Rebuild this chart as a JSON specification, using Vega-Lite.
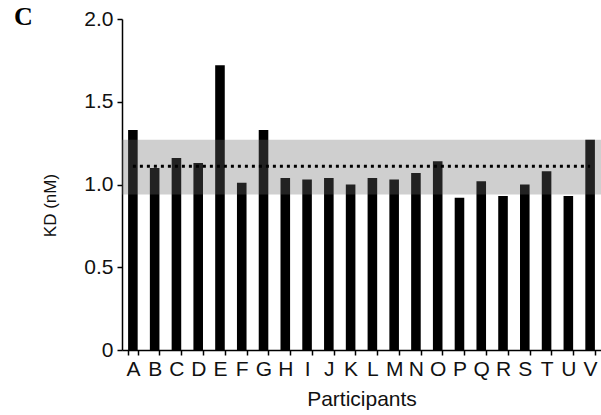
{
  "$schema": "https://vega.github.io/schema/vega-lite/v6.json",
  "width": 479,
  "height": 331,
  "autosize": {"type": "none"},
  "padding": {"left": 122, "top": 19, "right": 0, "bottom": 65},
  "background": "white",
  "title": {"text": "C", "anchor": "start", "frame": "group", "font": "Liberation Serif", "fontWeight": "bold", "fontSize": 26, "color": "#000", "dx": -108, "dy": -2, "offset": -24, "baseline": "top"},
  "config": {
    "view": {"stroke": null},
    "axis": {"labelFont": "Liberation Sans", "titleFont": "Liberation Sans", "labelColor": "#111", "titleColor": "#111", "domainColor": "#000", "tickColor": "#000", "grid": false, "labelFontSize": 21, "titleFontSize": 21, "titleFontWeight": "normal", "domainWidth": 1.5, "tickWidth": 1.5}
  },
  "datasets": {
    "bars": [
      {"participant": "A", "kd": 1.33},
      {"participant": "B", "kd": 1.10},
      {"participant": "C", "kd": 1.16},
      {"participant": "D", "kd": 1.13},
      {"participant": "E", "kd": 1.72},
      {"participant": "F", "kd": 1.01},
      {"participant": "G", "kd": 1.33},
      {"participant": "H", "kd": 1.04},
      {"participant": "I", "kd": 1.03},
      {"participant": "J", "kd": 1.04},
      {"participant": "K", "kd": 1.00},
      {"participant": "L", "kd": 1.04},
      {"participant": "M", "kd": 1.03},
      {"participant": "N", "kd": 1.07},
      {"participant": "O", "kd": 1.14},
      {"participant": "P", "kd": 0.92},
      {"participant": "Q", "kd": 1.02},
      {"participant": "R", "kd": 0.93},
      {"participant": "S", "kd": 1.00},
      {"participant": "T", "kd": 1.08},
      {"participant": "U", "kd": 0.93},
      {"participant": "V", "kd": 1.27}
    ],
    "band": [{"low": 0.94, "high": 1.27}],
    "mean": [{"mean": 1.11}]
  },
  "layer": [
    {
      "data": {"name": "bars"},
      "mark": {"type": "bar", "color": "#000"},
      "encoding": {
        "x": {"field": "participant", "type": "nominal", "sort": null,
              "scale": {"paddingInner": 0.56, "paddingOuter": 0.28},
              "axis": {"title": "Participants", "labelAngle": 0, "tickBand": "extent", "tickSize": 5, "labelPadding": 3, "titlePadding": 9}},
        "y": {"field": "kd", "type": "quantitative",
              "scale": {"domain": [0, 2], "nice": false},
              "axis": {"title": "KD (nM)", "titleFontSize": 17, "titleY": 186, "values": [0, 0.5, 1, 1.5, 2], "labelExpr": "datum.value == 0 ? '0' : format(datum.value, '.1f')", "tickSize": 5, "labelPadding": 4, "titlePadding": 24}}
      }
    },
    {
      "data": {"name": "band"},
      "mark": {"type": "rect", "color": "#6a6a6a", "opacity": 0.32},
      "encoding": {
        "y": {"field": "low", "type": "quantitative"},
        "y2": {"field": "high"}
      }
    },
    {
      "data": {"name": "mean"},
      "mark": {"type": "rule", "color": "#000", "strokeWidth": 3, "strokeDash": [3, 4]},
      "encoding": {
        "y": {"field": "mean", "type": "quantitative"},
        "x": {"datum": "A", "type": "nominal", "bandPosition": 0.5},
        "x2": {"datum": "V", "bandPosition": 0.5}
      }
    }
  ]
}
